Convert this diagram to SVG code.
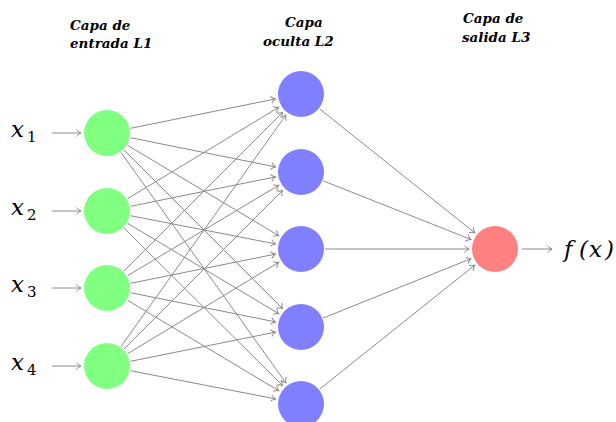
<svg xmlns="http://www.w3.org/2000/svg" width="616" height="422" viewBox="0 0 616 422">
<style>
.c{stroke:#8a8a8a;stroke-width:1;fill:none;marker-end:url(#ah)}
.t{font-family:"DejaVu Serif",serif;font-style:italic;font-weight:bold;font-size:13.5px;fill:#000}
.m{font-family:"DejaVu Serif",serif;font-style:italic;font-size:23px;fill:#000}
.s{font-family:"DejaVu Serif",serif;font-size:15px;fill:#000}
.in{fill:#80FF80}.hid{fill:#8080FF}.out{fill:#FF8080}
</style>
<defs>
<marker id="ah" markerUnits="userSpaceOnUse" markerWidth="10" markerHeight="10" viewBox="-6 -5 8 10" refX="0" refY="0" orient="auto">
<path d="M-4.5,-3.5 C-3,-1.5 -1,-0.4 0,0 C-1,0.4 -3,1.5 -4.5,3.5" stroke="#8a8a8a" stroke-width="1" fill="none"/>
</marker>
</defs>
<rect width="616" height="422" fill="#fff"/>
<g id="titles">
<text class="t" x="70" y="30">Capa de</text>
<text class="t" x="70" y="48">entrada L1</text>
<text class="t" x="285" y="27">Capa</text>
<text class="t" x="263" y="46">oculta L2</text>
<text class="t" x="463" y="23">Capa de</text>
<text class="t" x="462" y="42">salida L3</text>
</g>
<g id="connectors">
<line class="c" x1="52" y1="133" x2="81" y2="133"/>
<line class="c" x1="52" y1="211" x2="81" y2="211"/>
<line class="c" x1="52" y1="288" x2="81" y2="288"/>
<line class="c" x1="52" y1="366" x2="81" y2="366"/>
<line class="c" x1="130.5" y1="128.3" x2="275.5" y2="98.9"/>
<line class="c" x1="130.5" y1="137.7" x2="275.5" y2="166.9"/>
<line class="c" x1="127.6" y1="145.3" x2="278.7" y2="235.7"/>
<line class="c" x1="124" y1="150" x2="282.6" y2="308.6"/>
<line class="c" x1="121" y1="152.5" x2="285.9" y2="382.9"/>
<line class="c" x1="127.6" y1="198.7" x2="278.7" y2="107.3"/>
<line class="c" x1="130.5" y1="206.3" x2="275.5" y2="176.9"/>
<line class="c" x1="130.5" y1="215.7" x2="275.5" y2="243.9"/>
<line class="c" x1="127.6" y1="223.3" x2="278.7" y2="313.7"/>
<line class="c" x1="124" y1="228" x2="282.6" y2="385.6"/>
<line class="c" x1="124" y1="271" x2="282.6" y2="112.4"/>
<line class="c" x1="127.6" y1="275.7" x2="278.7" y2="185.3"/>
<line class="c" x1="130.5" y1="283.3" x2="275.5" y2="254.1"/>
<line class="c" x1="130.5" y1="292.7" x2="275.5" y2="321.9"/>
<line class="c" x1="127.6" y1="300.3" x2="278.7" y2="390.7"/>
<line class="c" x1="121" y1="346.5" x2="285.9" y2="115.1"/>
<line class="c" x1="124" y1="349" x2="282.6" y2="190.4"/>
<line class="c" x1="127.6" y1="353.7" x2="278.7" y2="262.3"/>
<line class="c" x1="130.5" y1="361.3" x2="275.5" y2="332.1"/>
<line class="c" x1="130.5" y1="370.7" x2="275.5" y2="398.9"/>
<line class="c" x1="319.8" y1="109" x2="474.7" y2="232.8"/>
<line class="c" x1="323.3" y1="180.9" x2="470.8" y2="239.4"/>
<line class="c" x1="325" y1="249" x2="469" y2="249"/>
<line class="c" x1="323.3" y1="318" x2="470.9" y2="258.7"/>
<line class="c" x1="319.8" y1="389" x2="474.7" y2="265.2"/>
<line class="c" x1="522" y1="249" x2="552" y2="249"/>
</g>
<g id="labels">
<text class="m" x="11" y="137">x</text><text class="s" x="27" y="142">1</text>
<text class="m" x="11" y="215">x</text><text class="s" x="27" y="220">2</text>
<text class="m" x="11" y="292">x</text><text class="s" x="27" y="297">3</text>
<text class="m" x="11" y="370">x</text><text class="s" x="27" y="375">4</text>
<text class="m" x="564" y="257">f</text>
<text class="m" x="579" y="257" font-style="normal">(</text>
<text class="m" x="589" y="257">x</text>
<text class="m" x="605" y="257" font-style="normal">)</text>
</g>
<g id="input1"><circle class="in" cx="107" cy="133" r="23"/></g>
<g id="input2"><circle class="in" cx="107" cy="211" r="23"/></g>
<g id="input3"><circle class="in" cx="107" cy="288" r="23"/></g>
<g id="input4"><circle class="in" cx="107" cy="366" r="23"/></g>
<g id="hidden1"><circle class="hid" cx="301" cy="94" r="23"/></g>
<g id="hidden2"><circle class="hid" cx="301" cy="172" r="23"/></g>
<g id="hidden3"><circle class="hid" cx="301" cy="249" r="23"/></g>
<g id="hidden4"><circle class="hid" cx="301" cy="327" r="23"/></g>
<g id="hidden5"><circle class="hid" cx="301" cy="404" r="23"/></g>
<g id="output"><circle class="out" cx="495" cy="249" r="23"/></g>
</svg>
